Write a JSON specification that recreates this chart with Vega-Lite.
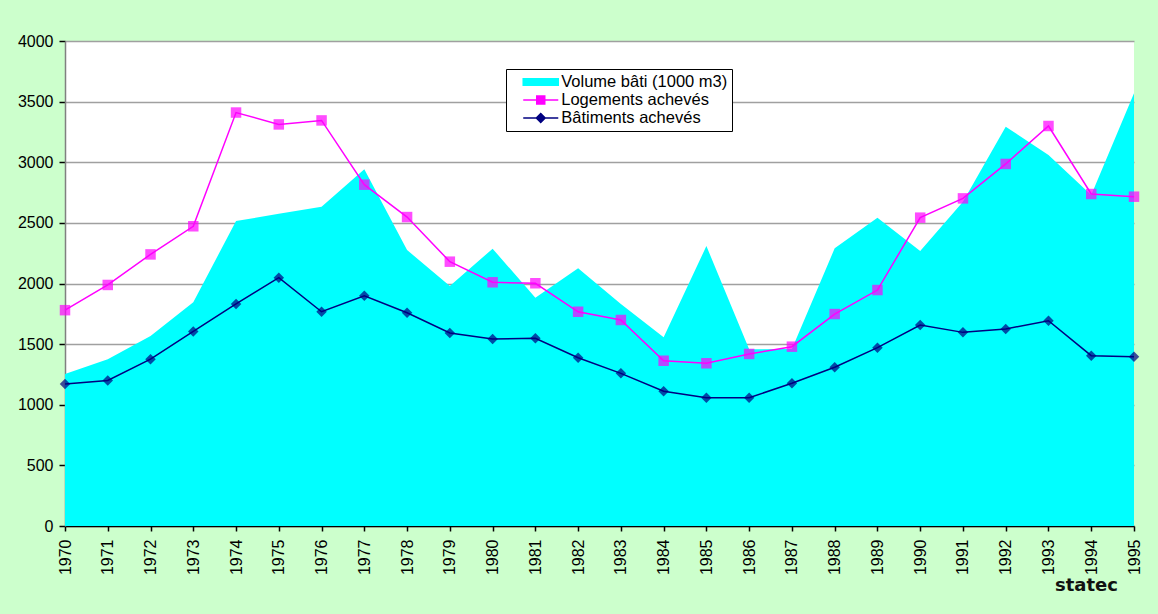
{
  "$schema": "https://vega.github.io/schema/vega-lite/v6.json",
  "autosize": "none",
  "width": 1069,
  "height": 485,
  "padding": {"left": 65, "top": 41, "right": 24, "bottom": 88},
  "background": "#CCFFCC",
  "config": {
    "view": {"fill": "white", "stroke": null},
    "font": "Liberation Sans"
  },
  "title": {
    "text": "statec",
    "orient": "bottom",
    "anchor": "end",
    "frame": "group",
    "font": "DejaVu Sans",
    "fontSize": 18,
    "fontWeight": "bold",
    "color": "#111111",
    "offset": 2,
    "dx": -16
  },
  "data": {
    "values": [
      {"year": 1970, "V": 1254, "L": 1780, "B": 1171},
      {"year": 1971, "V": 1375, "L": 1988, "B": 1200},
      {"year": 1972, "V": 1567, "L": 2240, "B": 1376},
      {"year": 1973, "V": 1845, "L": 2472, "B": 1605},
      {"year": 1974, "V": 2515, "L": 3410, "B": 1831},
      {"year": 1975, "V": 2575, "L": 3312, "B": 2048},
      {"year": 1976, "V": 2634, "L": 3345, "B": 1767},
      {"year": 1977, "V": 2942, "L": 2815, "B": 1899},
      {"year": 1978, "V": 2276, "L": 2548, "B": 1759},
      {"year": 1979, "V": 1979, "L": 2180, "B": 1592},
      {"year": 1980, "V": 2287, "L": 2010, "B": 1542},
      {"year": 1981, "V": 1883, "L": 2002, "B": 1548},
      {"year": 1982, "V": 2125, "L": 1767, "B": 1388},
      {"year": 1983, "V": 1831, "L": 1699, "B": 1259},
      {"year": 1984, "V": 1556, "L": 1363, "B": 1111},
      {"year": 1985, "V": 2309, "L": 1342, "B": 1058},
      {"year": 1986, "V": 1457, "L": 1419, "B": 1058},
      {"year": 1987, "V": 1460, "L": 1479, "B": 1177},
      {"year": 1988, "V": 2290, "L": 1748, "B": 1309},
      {"year": 1989, "V": 2543, "L": 1946, "B": 1471},
      {"year": 1990, "V": 2268, "L": 2543, "B": 1658},
      {"year": 1991, "V": 2675, "L": 2702, "B": 1597},
      {"year": 1992, "V": 3293, "L": 2986, "B": 1625},
      {"year": 1993, "V": 3060, "L": 3299, "B": 1693},
      {"year": 1994, "V": 2730, "L": 2738, "B": 1405},
      {"year": 1995, "V": 3569, "L": 2716, "B": 1396}
    ]
  },
  "transform": [{"fold": ["V", "L", "B"], "as": ["series", "value"]}],
  "encoding": {
    "x": {
      "field": "year",
      "type": "quantitative",
      "scale": {"domain": [1970, 1995], "nice": false, "zero": false},
      "axis": {
        "title": null,
        "values": [1970,1971,1972,1973,1974,1975,1976,1977,1978,1979,1980,1981,1982,1983,1984,1985,1986,1987,1988,1989,1990,1991,1992,1993,1994,1995],
        "format": "d",
        "grid": false,
        "labelAngle": 270,
        "labelAlign": "right",
        "labelBaseline": "middle",
        "labelFontSize": 16,
        "labelColor": "black",
        "labelPadding": 8,
        "labelOverlap": false,
        "labelFlush": false,
        "tickSize": 5,
        "tickColor": "black",
        "tickWidth": 1.5,
        "domainColor": "black",
        "domainWidth": 1.5
      }
    },
    "y": {
      "field": "value",
      "type": "quantitative",
      "stack": null,
      "scale": {"domain": [0, 4000], "nice": false},
      "axis": {
        "title": null,
        "values": [0,500,1000,1500,2000,2500,3000,3500,4000],
        "format": "d",
        "labelFontSize": 16,
        "labelColor": "black",
        "labelPadding": 6,
        "labelFlush": false,
        "tickSize": 6,
        "tickColor": "black",
        "tickWidth": 1.5,
        "domainColor": "#808080",
        "domainWidth": 1.5,
        "grid": true,
        "gridColor": "#A0A0A0",
        "gridWidth": 1.5
      }
    },
    "color": {
      "field": "series",
      "type": "nominal",
      "scale": {"domain": ["V", "L", "B"], "range": ["#00FFFF", "#FF00FF", "#000080"]},
      "legend": {
        "title": null,
        "orient": "none",
        "legendX": 441,
        "legendY": 28,
        "fillColor": "white",
        "strokeColor": "black",
        "padding": 4,
        "rowPadding": 0,
        "labelFont": "Liberation Sans",
        "labelFontSize": 16.5,
        "labelColor": "black",
        "labelLimit": 400,
        "labelOffset": 11.5,
        "symbolOffset": 21.75,
        "labelExpr": "datum.value == 'V' ? 'Volume bâti (1000 m3)\u00a0\u00a0\u00a0' : datum.value == 'L' ? 'Logements achevés' : 'Bâtiments achevés'",
        "symbolSize": 256,
        "encode": {
          "symbols": {
            "update": {
              "shape": {"signal": "datum.value == 'V' ? 'M-3.81,0M-2.19,-0.42H2.19V0.42H-2.19Z' : datum.value == 'L' ? 'M-3.81,0M-2.19,0H2.19M-0.5,-0.5H0.5V0.5H-0.5Z' : 'M-3.81,0M-2.19,0H2.19M0,-0.55L0.55,0L0,0.55L-0.55,0Z'"},
              "fill": {"scale": "color", "field": "value"},
              "stroke": {"scale": "color", "field": "value"},
              "strokeWidth": {"value": 1.5}
            }
          }
        }
      }
    }
  },
  "layer": [
    {
      "transform": [{"filter": "datum.series == 'V'"}],
      "mark": {"type": "area"}
    },
    {
      "transform": [{"filter": "datum.series != 'V'"}],
      "mark": {"type": "line", "strokeWidth": 1.5}
    },
    {
      "transform": [{"filter": "datum.series == 'L'"}],
      "mark": {"type": "point", "shape": "square", "filled": true, "size": 110}
    },
    {
      "transform": [{"filter": "datum.series == 'B'"}],
      "mark": {"type": "point", "shape": "diamond", "filled": true, "size": 110}
    }
  ]
}
